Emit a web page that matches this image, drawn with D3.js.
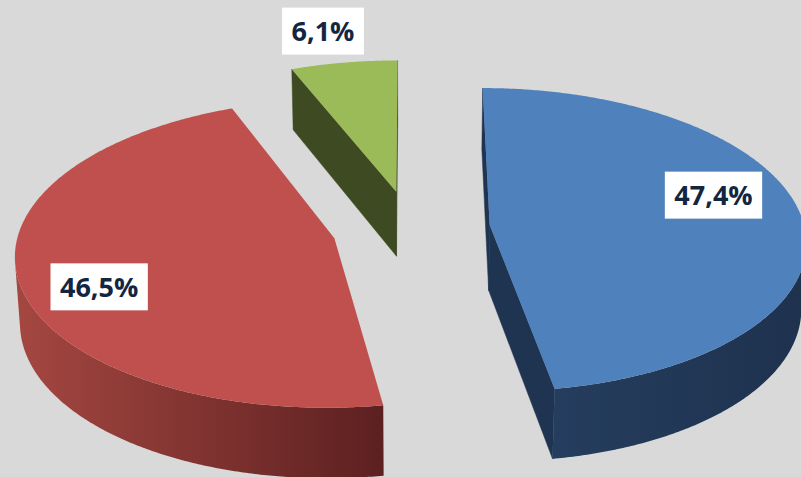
<!DOCTYPE html>
<html>
<head>
<meta charset="utf-8">
<script src="https://cdn.jsdelivr.net/npm/d3@7/dist/d3.min.js"></script>
<style>
  html, body { margin: 0; padding: 0; background: #d9d9d9; overflow: hidden; }
  svg { display: block; }
</style>
</head>
<body>
<svg id="chart" width="801" height="477"></svg>
<script>
// ---- data ----
const categories = ["Groupe A", "Groupe B", "Groupe C"];
const values = [47.4, 46.5, 6.1];
const topColors = ["#4f81bd", "#c0504d", "#9bbb59"];
const sideColors = ["#1f3451", "#5e2222", "#3e4b22"];
const sideGradients = [["#253d5e", "#1e324e"], ["#a54741", "#5c2020"], ["#4a5a28", "#3b4720"]];
// label placement: radial fraction on the top face, plus a nudge in pixels
const labelLayout = [
  { k: 0.72, dx: 0, dy: -21 },
  { k: 0.75, dx: 0, dy: 17 },
  { k: 1.30, dx: -7, dy: 3 }
];

// ---- 3D view ----
const W = 801, H = 477;
const cx = 411, cy = 228;          // projected centre of the pie
const focal = 2835, dist = 9;      // perspective camera
const tilt = 28.6 * Math.PI / 180; // elevation of the camera
const depth = 0.24;                // thickness of the pie (radius = 1)
const explode = 0.251;             // distance each slice is pulled out
const sinT = Math.sin(tilt), cosT = Math.cos(tilt);
const cam = [0, dist * sinT, -dist * cosT];

const radius = d3.scaleLinear().domain([0, 1]).range([0, 1]);

function project(X, Y, Z) {
  const v = Z * sinT + Y * cosT;
  const w = dist + Z * cosT - Y * sinT;
  return [cx + focal * X / w, cy - focal * v / w];
}

const fmt = d3.formatLocale({ decimal: ",", thousands: " ", grouping: [3], currency: ["", " €"] }).format(".1f");

const svg = d3.select("#chart");
svg.append("rect").attr("width", W).attr("height", H).attr("fill", "#d9d9d9");
const defs = svg.append("defs");

const pie = d3.pie().sort(null).value(d => d).startAngle(0).endAngle(2 * Math.PI);
const arcs = pie(values).map((a, i) => {
  const mid = (a.startAngle + a.endAngle) / 2;
  return { ...a, i, mid, ox: explode * Math.sin(mid), oz: explode * Math.cos(mid) };
});

const line = d3.line();

function sliceGeometry(a) {
  const pt = (th, r, y) => project(a.ox + radius(r) * Math.sin(th), y, a.oz + radius(r) * Math.cos(th));
  const n = Math.max(8, Math.ceil((a.endAngle - a.startAngle) / (Math.PI / 360)));
  const ths = d3.range(n + 1).map(j => a.startAngle + (a.endAngle - a.startAngle) * j / n);
  return { pt, ths };
}

function facing(nx, nz, px, py, pz) {
  return nx * (cam[0] - px) + nz * (cam[2] - pz) > 0;
}

const order = arcs.slice().sort((p, q) => q.oz - p.oz);
const g = svg.append("g");

order.forEach(a => {
  const { pt, ths } = sliceGeometry(a);
  const grp = g.append("g").attr("class", "slice");

  // radial side faces
  const faces = [
    { th: a.startAngle, n: [-Math.cos(a.startAngle), Math.sin(a.startAngle)] },
    { th: a.endAngle, n: [Math.cos(a.endAngle), -Math.sin(a.endAngle)] }
  ];
  faces.forEach(fc => {
    const px = a.ox + 0.5 * Math.sin(fc.th), pz = a.oz + 0.5 * Math.cos(fc.th);
    if (!facing(fc.n[0], fc.n[1], px, -depth / 2, pz)) return;
    const poly = [pt(fc.th, 0, 0), pt(fc.th, 1, 0), pt(fc.th, 1, -depth), pt(fc.th, 0, -depth)];
    grp.append("path").attr("d", line(poly) + "Z")
      .attr("fill", sideColors[a.i]).attr("stroke", sideColors[a.i]).attr("stroke-width", 0.5);
  });

  // curved outer face (front-facing part only)
  const vis = ths.filter(th => {
    const px = a.ox + Math.sin(th), pz = a.oz + Math.cos(th);
    return facing(Math.sin(th), Math.cos(th), px, -depth / 2, pz);
  });
  if (vis.length > 1) {
    const topArc = vis.map(th => pt(th, 1, 0));
    const botArc = vis.map(th => pt(th, 1, -depth)).reverse();
    const poly = topArc.concat(botArc);
    const xs = poly.map(p => p[0]);
    const gid = "side" + a.i;
    const lg = defs.append("linearGradient").attr("id", gid)
      .attr("gradientUnits", "userSpaceOnUse")
      .attr("x1", d3.min(xs)).attr("x2", d3.max(xs)).attr("y1", 0).attr("y2", 0);
    lg.append("stop").attr("offset", 0).attr("stop-color", sideGradients[a.i][0]);
    lg.append("stop").attr("offset", 1).attr("stop-color", sideGradients[a.i][1]);
    grp.append("path").attr("d", line(poly) + "Z").attr("fill", `url(#${gid})`);
  }

  // top face
  const topPoly = [pt(a.startAngle, 0, 0)].concat(ths.map(th => pt(th, 1, 0)));
  grp.append("path").attr("d", line(topPoly) + "Z").attr("fill", topColors[a.i]);
});

// ---- data labels ----
const labels = svg.append("g").attr("class", "labels");
arcs.forEach(a => {
  const { pt } = sliceGeometry(a);
  const L = labelLayout[a.i];
  const p = pt(a.mid, L.k, 0);
  const x = p[0] + L.dx, y = p[1] + L.dy;
  const lg = labels.append("g").attr("transform", `translate(${x},${y})`);
  const rect = lg.append("rect").attr("fill", "#ffffff");
  const t = lg.append("text")
    .attr("text-anchor", "middle").attr("dy", "0.36em")
    .attr("font-family", "'Open Sans', sans-serif").attr("font-weight", 700)
    .attr("font-size", 27).attr("fill", "#14263f")
    .text(fmt(a.value) + "%");
  const tw = t.node().getComputedTextLength();
  const bw = tw + 19, bh = 47;
  rect.attr("x", -bw / 2).attr("y", -bh / 2).attr("width", bw).attr("height", bh);
});
</script>
</body>
</html>
